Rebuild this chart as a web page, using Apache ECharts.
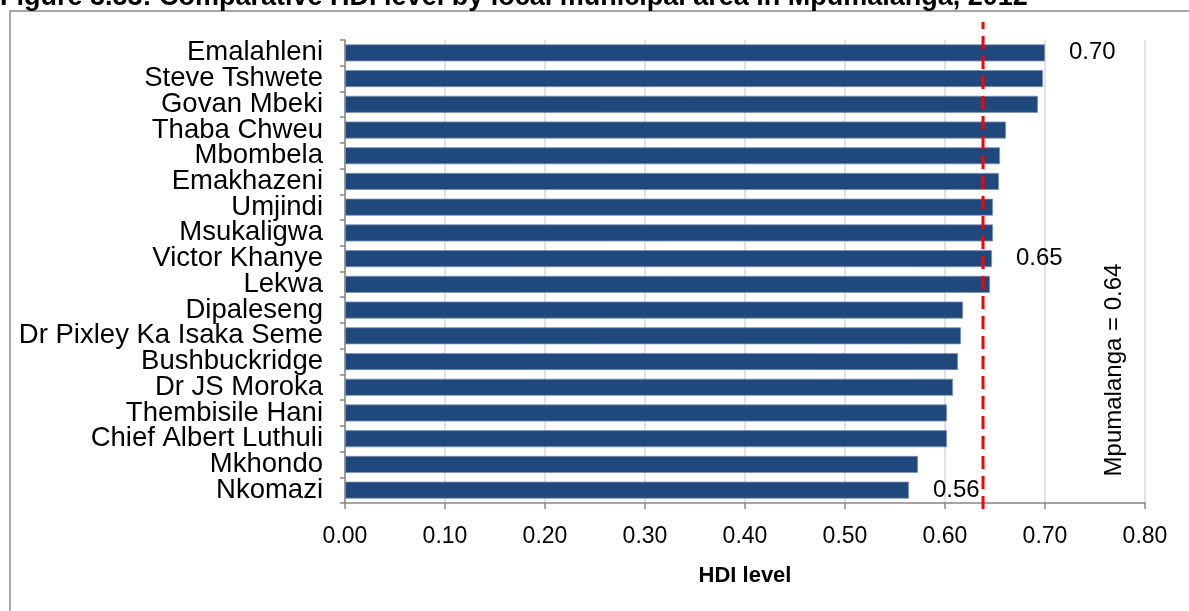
<!DOCTYPE html>
<html>
<head>
<meta charset="utf-8">
<script src="https://cdn.jsdelivr.net/npm/echarts@6/dist/echarts.min.js"></script>
<style>
html,body{margin:0;padding:0;background:#fff;}
#c{width:1189px;height:611px;}
</style>
</head>
<body>
<div id="c"></div>
<script>
const municipalities = ["Emalahleni","Steve Tshwete","Govan Mbeki","Thaba Chweu","Mbombela","Emakhazeni","Umjindi","Msukaligwa","Victor Khanye","Lekwa","Dipaleseng","Dr Pixley Ka Isaka Seme","Bushbuckridge","Dr JS Moroka","Thembisile Hani","Chief Albert Luthuli","Mkhondo","Nkomazi"];
const hdiValues = [0.700,0.698,0.693,0.661,0.655,0.654,0.648,0.648,0.647,0.645,0.618,0.616,0.613,0.608,0.602,0.602,0.573,0.564];
const labelledItems = ["Emalahleni","Victor Khanye","Nkomazi"];
const provinceValue = 0.638;
const provinceLabel = "Mpumalanga = 0.64";
const xTicks = [0,0.1,0.2,0.3,0.4,0.5,0.6,0.7,0.8];
const titleText = "Figure 3.53: Comparative HDI level by local municipal area in Mpumalanga, 2012";

const FONT = "'Liberation Sans', Arial, sans-serif";
const chart = echarts.init(document.getElementById('c'), null, {renderer:'canvas'});

const barData = hdiValues.map((v,i)=>({
  value: v,
  label: {show: labelledItems.indexOf(municipalities[i]) >= 0}
}));

chart.setOption({
  animation:false,
  backgroundColor:'#fff',
  graphic:[
    {type:'rect', shape:{x:10,y:11,width:1200,height:620}, style:{fill:'none',stroke:'#8a8a8a',lineWidth:1.5}, z:-10},
    {type:'text', x:0, y:11, style:{text:titleText, fontFamily:FONT, fontWeight:'bold', fontSize:27, fill:'#000', verticalAlign:'bottom'}},
    {type:'text', x:1114, y:370, rotation:Math.PI/2, style:{text:provinceLabel, fontFamily:FONT, fontSize:24, fill:'#000', align:'center', verticalAlign:'middle'}}
  ],
  grid:[
    {left:345, right:44, top:40, bottom:108},
    {left:345, right:44, top:22, bottom:102}
  ],
  xAxis:[
    {type:'value', gridIndex:0, min:xTicks[0], max:xTicks[xTicks.length-1], interval:0.1,
     axisLine:{show:true, lineStyle:{color:'#868686', width:1.5}},
     axisTick:{show:true, length:6, lineStyle:{color:'#868686', width:1.5}},
     splitLine:{show:true, lineStyle:{color:'#d9d9d9', width:1.5}},
     axisLabel:{formatter:v=>v.toFixed(2), fontFamily:FONT, fontSize:23, color:'#000', margin:22},
     name:'HDI level', nameLocation:'middle', nameGap:62,
     nameTextStyle:{fontFamily:FONT, fontWeight:'bold', fontSize:22, color:'#000'}},
    {type:'value', gridIndex:1, min:xTicks[0], max:xTicks[xTicks.length-1], show:false}
  ],
  yAxis:[
    {type:'category', gridIndex:0, data:municipalities, inverse:true,
     axisLine:{show:true, lineStyle:{color:'#868686', width:1.5}},
     axisTick:{show:true, length:5, alignWithLabel:false, lineStyle:{color:'#868686', width:1.5}},
     axisLabel:{interval:0, fontFamily:FONT, fontSize:27.5, color:'#000', margin:22}},
    {type:'value', gridIndex:1, min:0, max:1, show:false}
  ],
  series:[
    {type:'bar', xAxisIndex:0, yAxisIndex:0, data:barData, barWidth:17,
     itemStyle:{color:'#1F497D', borderColor:'#7d92b5', borderWidth:0.8},
     label:{show:false, position:'right', distance:24, formatter:p=>p.value.toFixed(2),
            fontFamily:FONT, fontSize:24, color:'#000'}},
    {type:'line', xAxisIndex:1, yAxisIndex:1, data:[[provinceValue,0],[provinceValue,1]],
     symbol:'none', silent:true, z:5,
     lineStyle:{color:'#ff0000', width:3, type:[13,7]}}
  ]
});
</script>
</body>
</html>
